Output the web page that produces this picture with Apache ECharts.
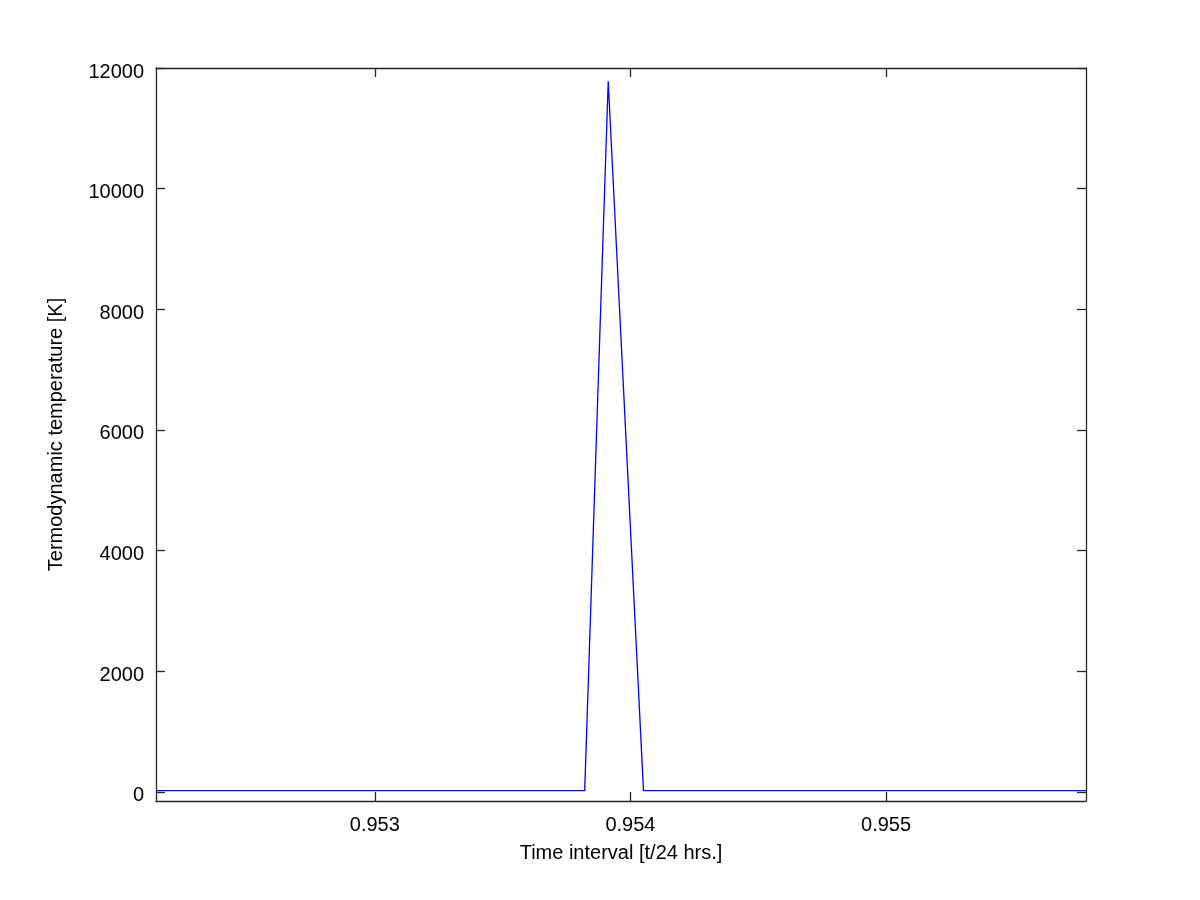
<!DOCTYPE html>
<html>
<head>
<meta charset="utf-8">
<script src="https://cdn.jsdelivr.net/npm/echarts@6/dist/echarts.min.js"></script>
<style>
html,body{margin:0;padding:0;background:#fff;}
#chart{width:1200px;height:900px;}
</style>
</head>
<body>
<div id="chart"></div>
<script>
// Data
const timeValues = [0.952144, 0.953821, 0.953913, 0.954051, 0.955782];
const temperatureValues = [22, 22, 11780, 22, 22];
const xTickValues = [0.953, 0.954, 0.955];
const yTickValues = [0, 2000, 4000, 6000, 8000, 10000, 12000];
const xAxisTitle = 'Time interval [t/24 hrs.]';
const yAxisTitle = 'Termodynamic temperature [K]';

const seriesData = timeValues.map((t, i) => [t, temperatureValues[i]]);
const FONT = 'Liberation Sans, Arial, sans-serif';
const AXIS_COLOR = '#262626';

const chart = echarts.init(document.getElementById('chart'), null, {renderer: 'canvas'});

function boxAxis(extra) {
  return Object.assign({
    type: 'value',
    axisLine: {show: true, onZero: false, lineStyle: {color: AXIS_COLOR, width: 1.3}},
    axisTick: {show: true, inside: true, length: 9, lineStyle: {color: AXIS_COLOR, width: 1.3}},
    splitLine: {show: false},
    axisLabel: {show: false}
  }, extra);
}

chart.setOption({
  animation: false,
  backgroundColor: '#ffffff',
  grid: {left: 156, right: 114, top: 68, bottom: 99, containLabel: false},
  xAxis: [
    boxAxis({
      position: 'bottom',
      min: 0.952144, max: 0.955782,
      name: xAxisTitle, nameLocation: 'middle', nameGap: 42,
      nameTextStyle: {color: '#000', fontSize: 20, fontFamily: FONT},
      axisTick: {show: true, inside: true, length: 9, customValues: xTickValues, lineStyle: {color: AXIS_COLOR, width: 1.3}},
      axisLabel: {show: true, customValues: xTickValues, color: '#000', fontSize: 20, fontFamily: FONT, margin: 14,
        formatter: v => v.toFixed(3)}
    }),
    boxAxis({
      position: 'top',
      min: 0.952144, max: 0.955782,
      axisTick: {show: true, inside: true, length: 9, customValues: xTickValues, lineStyle: {color: AXIS_COLOR, width: 1.3}}
    })
  ],
  yAxis: [
    boxAxis({
      position: 'left',
      min: -150, max: 12000,
      name: yAxisTitle, nameLocation: 'middle', nameGap: 90, nameRotate: 90,
      nameTextStyle: {color: '#000', fontSize: 20, fontFamily: FONT},
      axisTick: {show: true, inside: true, length: 9, customValues: yTickValues, lineStyle: {color: AXIS_COLOR, width: 1.3}},
      axisLabel: {show: true, customValues: yTickValues, color: '#000', fontSize: 20, fontFamily: FONT, margin: 12,
        verticalAlign: 'top', lineHeight: 8, formatter: v => String(v)}
    }),
    boxAxis({
      position: 'right',
      min: -150, max: 12000,
      axisTick: {show: true, inside: true, length: 9, customValues: yTickValues, lineStyle: {color: AXIS_COLOR, width: 1.3}}
    })
  ],
  series: [{
    type: 'line',
    data: seriesData,
    xAxisIndex: 0,
    yAxisIndex: 0,
    showSymbol: false,
    symbol: 'none',
    lineStyle: {color: '#0000ff', width: 1.3},
    clip: true
  }]
});
</script>
</body>
</html>
